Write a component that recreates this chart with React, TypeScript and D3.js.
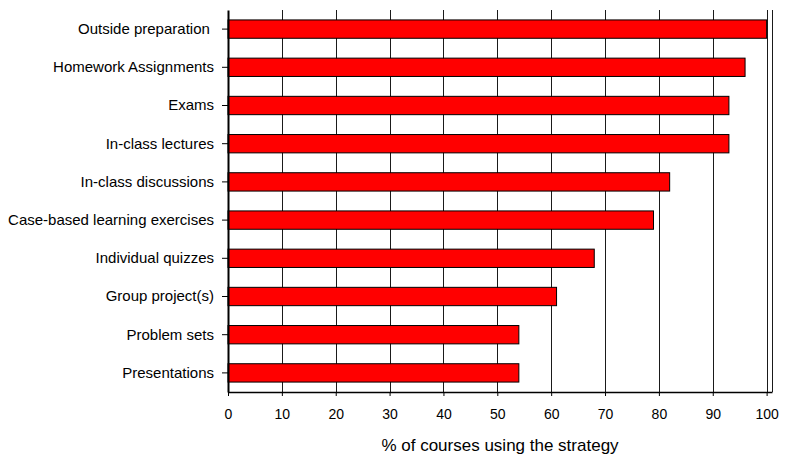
import React, { useEffect, useRef } from 'react';
import * as d3 from 'd3';

// the first label carries a trailing space in the original chart
const categories = [
  'Outside preparation ',
  'Homework Assignments',
  'Exams',
  'In-class lectures',
  'In-class discussions',
  'Case-based learning exercises',
  'Individual quizzes',
  'Group project(s)',
  'Problem sets',
  'Presentations',
];
const values = [100, 96, 93, 93, 82, 79, 68, 61, 54, 54];
const xTicks = [0, 10, 20, 30, 40, 50, 60, 70, 80, 90, 100];
const xTitle = '% of courses using the strategy';

const W = 785;
const H = 454;
const FONT = '"Liberation Sans", Arial, sans-serif';

export default function App() {
  const ref = useRef<SVGSVGElement>(null);

  useEffect(() => {
    const svg = d3.select(ref.current);
    svg.selectAll('*').remove();

    const left = 228, right = 772, top = 10, bottom = 392;

    // plot goes a little past 100, like the original
    const x = d3.scaleLinear().domain([0, 101]).range([left, right]);
    const y = d3.scaleBand<string>().domain(categories).range([top, bottom]).paddingInner(0.52).paddingOuter(0.26);

    // vertical grid lines
    svg.append('g')
      .selectAll('line')
      .data(xTicks.filter(d => d > 0))
      .enter()
      .append('line')
      .attr('x1', d => Math.round(x(d)) + 0.5)
      .attr('x2', d => Math.round(x(d)) + 0.5)
      .attr('y1', top)
      .attr('y2', bottom)
      .attr('stroke', '#1a1a1a')
      .attr('stroke-width', 1);

    // right frame
    svg.append('line')
      .attr('x1', right + 0.5).attr('x2', right + 0.5)
      .attr('y1', top).attr('y2', bottom)
      .attr('stroke', '#1a1a1a');

    // bars
    svg.append('g')
      .selectAll('rect')
      .data(values)
      .enter()
      .append('rect')
      .attr('x', x(0))
      .attr('y', (d, i) => y(categories[i])!)
      .attr('width', d => x(d) - x(0))
      .attr('height', y.bandwidth())
      .attr('fill', '#ff0000')
      .attr('stroke', '#000')
      .attr('stroke-width', 1);

    // x axis
    const xAxis = svg.append('g')
      .attr('transform', `translate(0,${bottom})`)
      .call(d3.axisBottom(x).tickValues(xTicks).tickSize(4).tickPadding(13).tickSizeOuter(0));
    xAxis.select('.domain').attr('stroke', '#000').attr('stroke-width', 1.5);
    xAxis.selectAll('.tick line').attr('stroke', '#000');
    xAxis.selectAll('text')
      .attr('font-family', FONT)
      .attr('font-size', 14)
      .attr('fill', '#000');

    // y axis
    const yAxis = svg.append('g')
      .attr('transform', `translate(${left},0)`)
      .call(d3.axisLeft(y).tickSize(6).tickPadding(8).tickSizeOuter(0));
    yAxis.select('.domain').attr('stroke', '#000').attr('stroke-width', 2);
    yAxis.selectAll('.tick line').attr('stroke', '#000');
    yAxis.selectAll('text')
      .attr('font-family', FONT)
      .attr('font-size', 15)
      .attr('fill', '#000')
      .style('white-space', 'pre');

    // axis title
    svg.append('text')
      .attr('x', (left + right) / 2)
      .attr('y', 451)
      .attr('text-anchor', 'middle')
      .attr('font-family', FONT)
      .attr('font-size', 17)
      .attr('fill', '#000')
      .text(xTitle);
  }, []);

  return (
    <svg
      ref={ref}
      width={W}
      height={H}
      style={{ position: 'absolute', left: 0, top: 0, background: '#fff' }}
    />
  );
}
